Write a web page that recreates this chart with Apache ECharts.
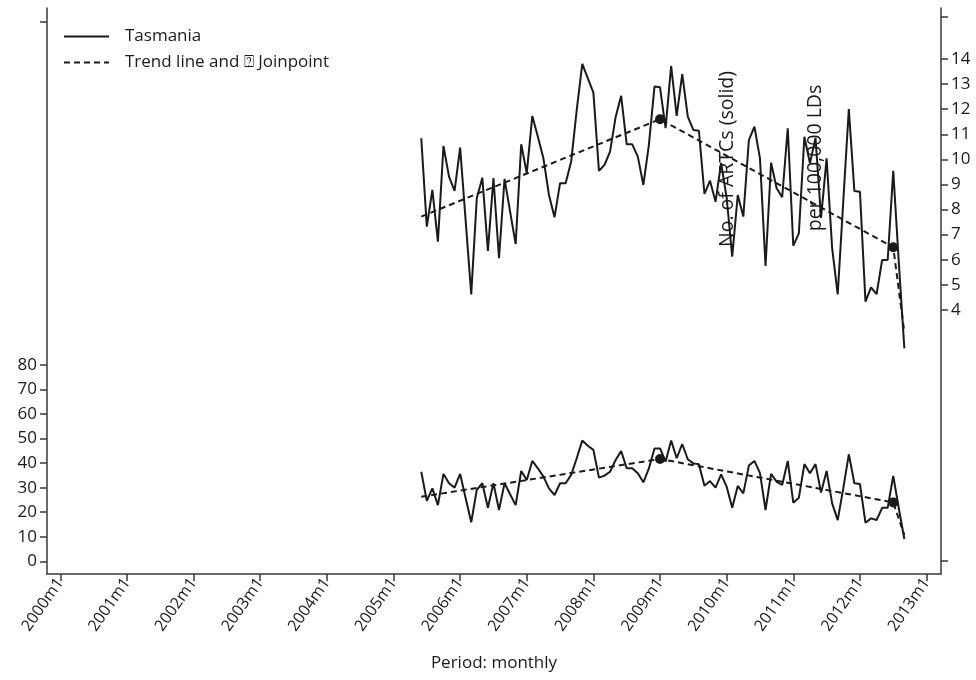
<!DOCTYPE html>
<html>
<head>
<meta charset="utf-8">
<script src="https://cdn.jsdelivr.net/npm/echarts@6/dist/echarts.min.js"></script>
<style>
  html, body { margin: 0; padding: 0; background: #fff; }
  #chart { width: 976px; height: 680px; }
</style>
</head>
<body>
<div id="chart"></div>
<script>
// Monthly series for Tasmania, 2005m6 to 2012m9 (month index 0 = 2000m1)
const firstMonth = 65;

// Rate of ARTCs per 100,000 LDs (right axis)
const rateValues = [
  10.84, 7.32, 8.78, 6.72, 10.53, 9.31, 8.74, 10.47, 7.55, 4.62,
  8.45, 9.27, 6.35, 9.25, 6.06, 9.22, 7.92, 6.62, 10.6, 9.45,
  11.73, 10.9, 10.04, 8.58, 7.69, 9.05, 9.05, 9.91, 11.97, 13.8,
  13.23, 12.66, 9.54, 9.78, 10.31, 11.68, 12.53, 10.6, 10.6, 10.11,
  8.98, 10.59, 12.9, 12.87, 11.24, 13.72, 11.73, 13.4, 11.7, 11.17,
  11.14, 8.62, 9.15, 8.31, 9.86, 8.47, 6.12, 8.58, 7.72, 10.77,
  11.3, 10.04, 5.75, 9.87, 8.85, 8.49, 11.24, 6.56, 7.05, 10.9,
  9.84, 10.85, 7.67, 10.04, 6.45, 4.62, 8.32, 12.0, 8.74, 8.71,
  4.33, 4.9, 4.63, 5.99, 5.99, 9.54, 5.9, 2.47
];

// Number of ARTCs (left axis)
const countValues = [
  36.5, 24.6, 29.7, 22.9, 35.6, 31.8, 30.0, 35.6, 25.7, 15.9,
  29.1, 31.8, 21.8, 31.8, 20.9, 31.8, 27.3, 22.9, 36.8, 33.1,
  40.9, 37.9, 34.5, 29.7, 27.0, 31.8, 31.8, 35.2, 42.0, 49.2,
  47.1, 45.4, 34.1, 34.9, 36.5, 41.3, 44.9, 37.9, 37.9, 35.9,
  32.2, 37.9, 46.0, 46.0, 40.6, 49.2, 42.0, 47.8, 41.6, 39.9,
  39.6, 30.8, 32.7, 30.0, 35.4, 30.4, 21.8, 30.7, 27.7, 39.0,
  40.9, 35.9, 20.9, 35.6, 32.4, 31.1, 40.9, 23.9, 25.9, 39.6,
  35.9, 39.6, 28.0, 36.8, 23.6, 16.8, 29.7, 43.6, 31.8, 31.5,
  15.7, 17.5, 16.8, 21.8, 21.8, 34.8, 21.6, 9.1
];

// Joinpoint trend: segment ends (month index) and fitted values
const trendMonths = [65, 108, 150, 152];
const rateTrend = [7.72, 11.6, 6.5, 3.1];
const countTrend = [26.3, 41.7, 24.0, 10.7];
const joinpointMonths = [108, 150];

// Axis ticks and labels
const yearTicks = [0, 12, 24, 36, 48, 60, 72, 84, 96, 108, 120, 132, 144, 156];
const countLabels = [0, 10, 20, 30, 40, 50, 60, 70, 80];
const countTicks = countLabels.concat([220]);
const rateLabels = [4, 5, 6, 7, 8, 9, 10, 11, 12, 13, 14];
const rateTicks = [-6].concat(rateLabels, [15.7]);

const INK = '#1a1a1a';
const AXIS = '#3a3a3a';
const FONT = '"Open Sans", "DejaVu Sans", sans-serif';

function monthLabel(v) {
  const y = 2000 + Math.floor(v / 12);
  const m = (v % 12) + 1;
  return y + 'm' + m;
}

function pairs(values) {
  return values.map((v, k) => [firstMonth + k, v]);
}

function trendData(values) {
  return trendMonths.map((m, k) => {
    const item = { value: [m, values[k]] };
    if (joinpointMonths.indexOf(m) >= 0) {
      item.symbol = 'circle';
      item.symbolSize = 10;
    }
    return item;
  });
}

const solidLine = { color: INK, width: 2 };
const dashedLine = { color: INK, width: 2, type: [6, 4] };

const chart = echarts.init(document.getElementById('chart'), null, { renderer: 'canvas' });

chart.setOption({
  backgroundColor: '#fff',
  animation: false,
  textStyle: { fontFamily: FONT },
  grid: { left: 47, right: 35, top: 8, bottom: 106 },
  legend: {
    orient: 'vertical',
    left: 63,
    top: 28,
    padding: 0,
    itemWidth: 45,
    itemHeight: 14,
    itemGap: 9,
    selectedMode: false,
    // keep only the line sample in the key, no marker
    itemStyle: { color: 'rgba(0,0,0,0)', borderWidth: 0 },
    textStyle: { fontFamily: FONT, fontSize: 17, color: INK, padding: [0, 0, 0, 11] },
    data: ['Tasmania', 'Trend line and \u2370 Joinpoint']
  },
  xAxis: {
    type: 'value',
    min: -2.4,
    max: 158.6,
    name: 'Period: monthly',
    nameLocation: 'middle',
    nameGap: 81,
    nameTextStyle: { fontFamily: FONT, fontSize: 17, color: INK },
    axisLine: { show: true, onZero: false, lineStyle: { color: AXIS, width: 1.5 } },
    axisTick: { show: true, customValues: yearTicks, length: 7, lineStyle: { color: AXIS, width: 1.5 } },
    axisLabel: {
      customValues: yearTicks,
      formatter: monthLabel,
      rotate: 55,
      margin: 6,
      fontFamily: FONT,
      fontSize: 16,
      color: INK
    },
    splitLine: { show: false }
  },
  yAxis: [
    {
      type: 'value',
      position: 'left',
      min: -5.18,
      max: 225.5,
      axisLine: { show: true, onZero: false, lineStyle: { color: AXIS, width: 1.5 } },
      axisTick: { show: true, customValues: countTicks, length: 7, lineStyle: { color: AXIS, width: 1.5 } },
      axisLabel: { customValues: countLabels, margin: 10, fontFamily: FONT, fontSize: 17, color: INK },
      splitLine: { show: false }
    },
    {
      type: 'value',
      position: 'right',
      min: -6.52,
      max: 16.03,
      axisLine: { show: true, onZero: false, lineStyle: { color: AXIS, width: 1.5 } },
      axisTick: { show: true, customValues: rateTicks, length: 7, lineStyle: { color: AXIS, width: 1.5 } },
      axisLabel: { customValues: rateLabels, margin: 10, fontFamily: FONT, fontSize: 17, color: INK },
      splitLine: { show: false }
    }
  ],
  series: [
    {
      name: 'Tasmania', type: 'line', yAxisIndex: 1,
      data: pairs(rateValues), symbol: 'none', lineStyle: solidLine, itemStyle: { color: INK }
    },
    {
      name: 'Tasmania', type: 'line', yAxisIndex: 0,
      data: pairs(countValues), symbol: 'none', lineStyle: solidLine, itemStyle: { color: INK }
    },
    {
      name: 'Trend line and \u2370 Joinpoint', type: 'line', yAxisIndex: 1,
      data: trendData(rateTrend), symbol: 'none', lineStyle: dashedLine, itemStyle: { color: INK }, z: 3
    },
    {
      name: 'Trend line and \u2370 Joinpoint', type: 'line', yAxisIndex: 0,
      data: trendData(countTrend), symbol: 'none', lineStyle: dashedLine, itemStyle: { color: INK }, z: 3
    }
  ],
  graphic: [
    {
      type: 'text', x: 727, y: 159, rotation: Math.PI / 2,
      style: {
        text: 'No. of ARTCs (solid)', fontFamily: FONT, fontSize: 19.5, fill: INK,
        align: 'center', verticalAlign: 'middle'
      }
    },
    {
      type: 'text', x: 815, y: 158, rotation: Math.PI / 2,
      style: {
        text: 'per 100,000 LDs', fontFamily: FONT, fontSize: 19.5, fill: INK,
        align: 'center', verticalAlign: 'middle'
      }
    }
  ]
});
</script>
</body>
</html>
